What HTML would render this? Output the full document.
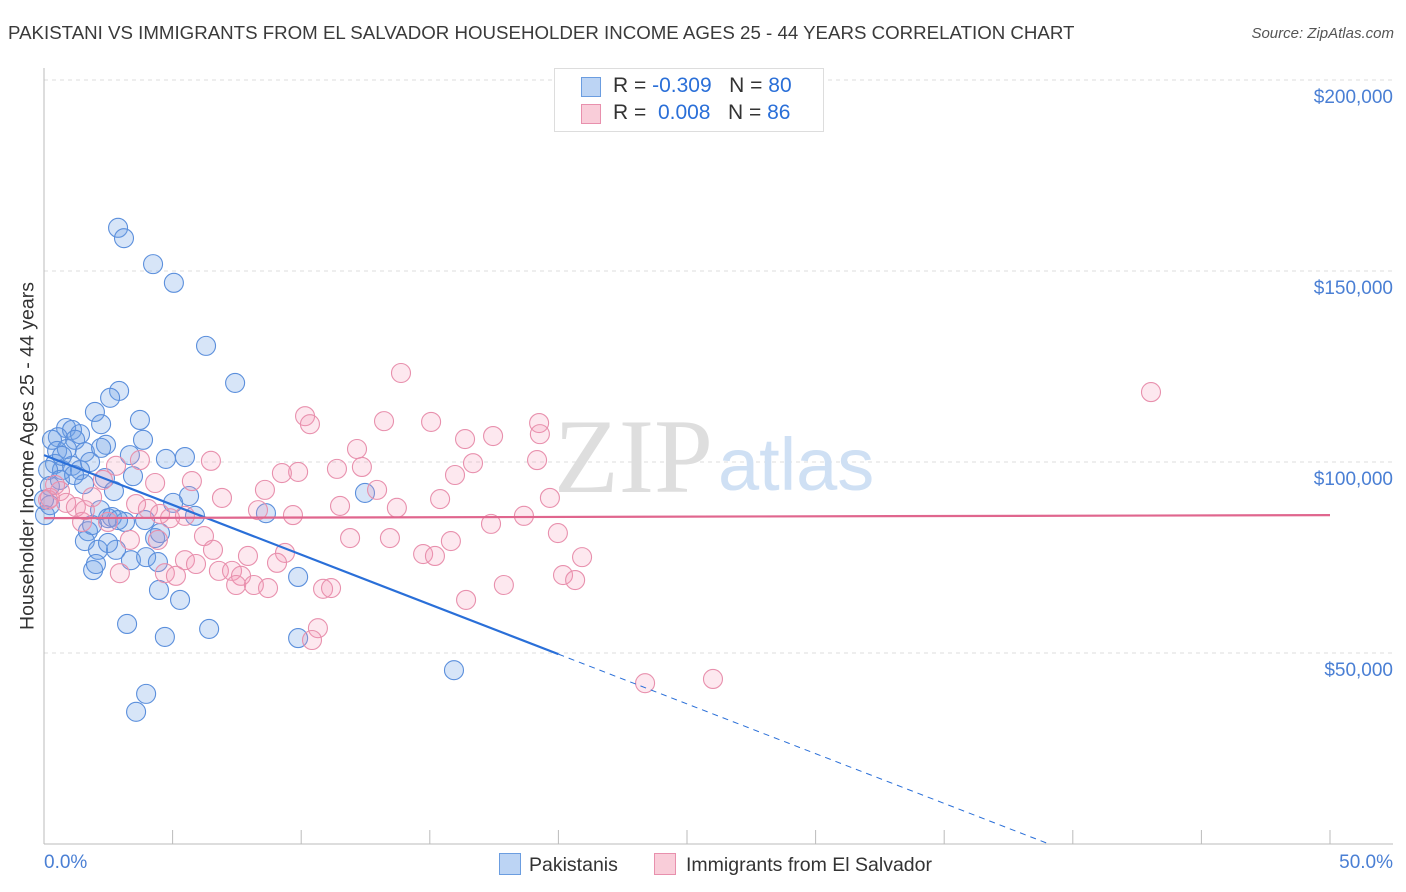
<!DOCTYPE html>
<html><head><meta charset="utf-8"><style>
body{margin:0;background:#fff;font-family:"Liberation Sans",sans-serif;}
#wrap{position:relative;width:1406px;height:892px;overflow:hidden;}
.t{position:absolute;white-space:nowrap;}
</style></head><body>
<div id="wrap">
<div class="t" style="left:8px;top:22px;font-size:18.7px;color:#3a3a3a;">PAKISTANI VS IMMIGRANTS FROM EL SALVADOR HOUSEHOLDER INCOME AGES 25 - 44 YEARS CORRELATION CHART</div>
<div class="t" style="right:12px;top:25px;font-size:15px;color:#555;font-style:italic;">Source: ZipAtlas.com</div>
<svg id="plot" width="1406" height="892" style="position:absolute;left:0;top:0"></svg>
</div>
<script>
const yTicks=[50000,100000,150000,200000];
const yTickLabels=["$50,000","$100,000","$150,000","$200,000"];
const xTickLabels=["0.0%","50.0%"];
const pakX=[2.88,3.11,4.24,5.05,6.30,7.43,2.92,2.57,1.98,0.86,1.09,2.22,1.40,0.54,0.31,1.21,2.41,3.85,0.51,0.89,1.59,2.22,5.48,4.74,0.43,0.70,1.09,1.40,1.79,0.16,0.62,1.56,2.37,3.46,5.64,2.72,5.02,12.48,8.63,2.18,2.49,3.15,2.64,3.93,5.87,4.32,1.71,1.59,2.10,2.80,2.49,3.38,3.97,4.43,1.91,2.02,9.88,5.29,4.47,3.23,6.42,4.70,9.88,15.94,3.97,3.58,0.04,0.23,3.73,0.70,1.17,1.87,2.88,4.51,3.34,0.23,0.0];
const pakY=[161.3,158.6,151.8,146.9,130.4,120.7,118.6,116.8,113.1,108.9,108.4,109.9,107.3,106.5,105.8,105.8,104.5,105.8,102.9,103.4,102.6,103.7,101.3,100.8,99.5,97.9,99.0,97.9,100.0,97.9,95.3,94.2,95.8,96.3,91.1,92.4,89.3,91.9,86.6,87.4,85.3,84.3,85.6,84.8,85.9,80.1,81.9,79.3,77.0,77.0,78.8,74.3,75.1,73.8,71.7,73.3,69.9,63.9,66.5,57.6,56.3,54.2,53.9,45.5,39.3,34.6,86.1,88.7,111.0,101.6,96.6,83.5,84.8,81.4,101.8,93.7,90.1];
const salX=[13.88,43.04,10.15,10.34,13.22,15.05,19.25,12.17,16.37,17.46,19.28,6.49,19.17,16.68,9.88,9.25,11.39,12.36,15.98,2.80,2.29,4.32,5.75,12.95,15.40,19.67,6.92,8.59,1.87,0.62,0.23,0.86,1.24,4.04,3.58,11.51,13.72,18.66,17.38,9.68,8.32,5.48,4.90,1.48,2.49,4.51,3.34,4.43,6.22,6.57,5.48,5.91,7.93,9.37,11.90,13.45,15.82,14.74,15.20,19.98,20.92,9.06,2.95,4.70,5.13,6.80,7.31,7.66,7.47,8.16,8.71,20.18,20.65,17.88,10.85,11.16,16.41,10.65,10.42,23.37,26.01,0.16,0.43,1.59,3.73];
const salY=[123.3,118.3,112.0,109.9,110.7,110.5,110.2,103.4,106.0,106.8,107.3,100.3,100.5,99.7,97.4,97.1,98.2,98.7,96.6,99.0,95.3,94.5,95.0,92.7,90.3,90.6,90.6,92.7,90.8,92.4,90.6,89.3,88.2,87.7,89.0,88.5,88.0,85.9,83.8,86.1,87.4,85.9,85.3,84.3,84.3,86.4,79.6,79.6,80.6,77.0,74.3,73.3,75.4,76.2,80.1,80.1,79.3,75.9,75.4,81.4,75.1,73.6,70.9,70.9,70.2,71.5,71.5,70.2,67.8,67.8,67.0,70.4,69.1,67.8,66.8,67.0,63.9,56.5,53.4,42.1,43.2,90.1,94.0,87.4,100.5];
const pakTrend=[101.8,49.7]; // at x=0 and x=20
const salTrend=[85.3,86.1]; // at x=0 and x=50
const NS="http://www.w3.org/2000/svg";
const X=v=>44+v*25.72, Y=k=>844-k*3.82;
const svg=document.getElementById('plot');
function mk(tag,attrs,parent){const e=document.createElementNS(NS,tag);for(const k in attrs)e.setAttribute(k,attrs[k]);(parent||svg).appendChild(e);return e;}
yTicks.forEach((t,i)=>{
 const g=mk('line',{x1:44,x2:1393,y1:Y(t/1000),y2:Y(t/1000),stroke:'#dcdcdc','stroke-dasharray':'4,4'});
 
 
 const tx=mk('text',{x:1393,y:Y(t/1000)+23,'text-anchor':'end','font-size':19,fill:'#4a7fd4','font-family':'Liberation Sans'});
 tx.textContent=yTickLabels[i];
 
 
});
const ax=mk('line',{x1:44,x2:44,y1:68,y2:844,stroke:'#bbb'});

const bx=mk('line',{x1:44,x2:1393,y1:844,y2:844,stroke:'#bbb'});

for(let i=0;i<=10;i++){const tk=mk('line',{x1:X(i*5),x2:X(i*5),y1:830,y2:844,stroke:'#bbb'});
 }
const wm1=mk('text',{x:554,y:492,'font-size':106,fill:'#dedede','font-family':'Liberation Serif'});wm1.textContent='ZIP';

const wm2=mk('text',{x:718,y:490,'font-size':74,fill:'#cfe0f4','font-family':'Liberation Sans'});wm2.textContent='atlas';

pakX.forEach((v,i)=>{const c=mk('circle',{cx:X(v),cy:Y(pakY[i]),r:9.5,fill:'rgba(110,160,230,0.28)',stroke:'#5b8fdc','stroke-width':1.1});
 });
salX.forEach((v,i)=>{const c=mk('circle',{cx:X(v),cy:Y(salY[i]),r:9.5,fill:'rgba(245,150,180,0.22)',stroke:'#e890ad','stroke-width':1.1});
 });
const slope=(pakTrend[1]-pakTrend[0])/20;
const l1=mk('line',{x1:X(0),y1:Y(pakTrend[0]),x2:X(20),y2:Y(pakTrend[1]),stroke:'#2a6fd8','stroke-width':2.2});

const xe=-pakTrend[0]/slope;
const l2=mk('line',{x1:X(20),y1:Y(pakTrend[1]),x2:X(xe),y2:Y(0),stroke:'#2a6fd8','stroke-width':1,'stroke-dasharray':'6,5'});

const l3=mk('line',{x1:X(0),y1:Y(salTrend[0]),x2:X(50),y2:Y(salTrend[1]),stroke:'#e0668e','stroke-width':2.2});

</script>
<div class="t" style="left:28px;top:456px;font-size:19.5px;color:#333;transform:translate(-50%,-50%) rotate(-90deg);">Householder Income Ages 25 - 44 years</div>
<div class="t" style="left:44px;top:852px;font-size:19px;color:#4a7fd4;">0.0%</div>
<div class="t" style="right:13px;top:852px;font-size:19px;color:#4a7fd4;">50.0%</div>
<div style="position:absolute;left:554px;top:68px;width:268px;height:62px;border:1px solid #ddd;background:#fff;font-size:21px;color:#333;">
 <div style="position:absolute;left:26px;top:8px;width:18px;height:18px;background:#bcd4f4;border:1px solid #6b9de0;"></div>
 <div class="t" style="left:58px;top:5px;">R = <span style="color:#2a6fd8">-0.309</span>&nbsp;&nbsp;&nbsp;N = <span style="color:#2a6fd8">80</span></div>
 <div style="position:absolute;left:26px;top:35px;width:18px;height:18px;background:#f9cdd9;border:1px solid #e890ad;"></div>
 <div class="t" style="left:58px;top:32px;">R = &nbsp;<span style="color:#2a6fd8">0.008</span>&nbsp;&nbsp;&nbsp;N = <span style="color:#2a6fd8">86</span></div>
</div>
<div style="position:absolute;left:499px;top:853px;font-size:19.5px;color:#333;">
 <span style="display:inline-block;width:20px;height:20px;background:#bcd4f4;border:1px solid #6b9de0;vertical-align:-4px;margin-right:8px;"></span>Pakistanis</div>
<div style="position:absolute;left:654px;top:853px;font-size:19.5px;color:#333;">
 <span style="display:inline-block;width:20px;height:20px;background:#f9cdd9;border:1px solid #e890ad;vertical-align:-4px;margin-right:10px;"></span>Immigrants from El Salvador</div>
</body></html>
